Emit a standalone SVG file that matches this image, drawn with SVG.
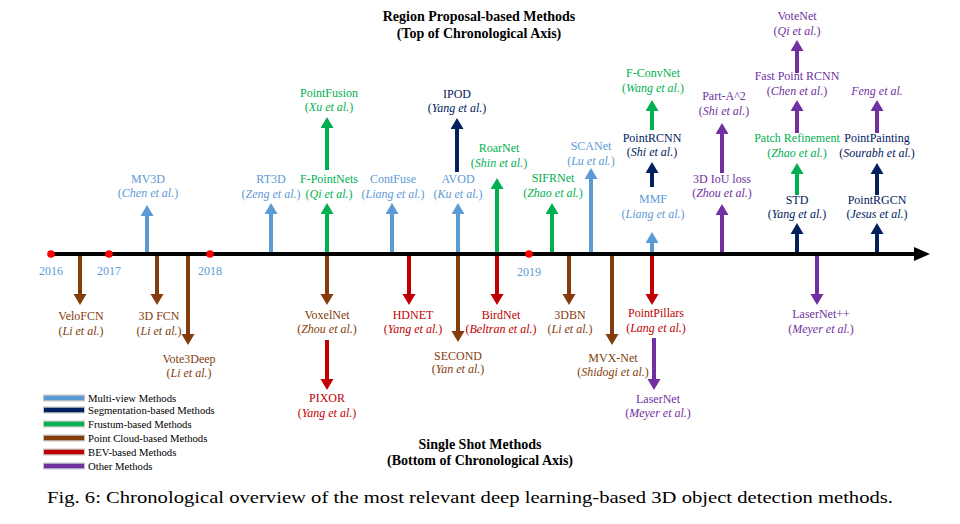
<svg xmlns="http://www.w3.org/2000/svg" width="960" height="524" viewBox="0 0 960 524">
<style>
text{font-family:"Liberation Serif","Times New Roman",serif;font-size:12px;text-anchor:middle}
.i{font-style:italic}
.mv{fill:#5B9BD5}.sg{fill:#002060}.fr{fill:#00B050}.pc{fill:#843C0C}.bev{fill:#C00000}.ot{fill:#7030A0}
.title{font-size:14px;font-weight:bold;fill:#000}
.leg{font-size:10.7px;text-anchor:start;fill:#000}
.cap{font-size:17px;text-anchor:start;fill:#000}
.yr{fill:#5B9BD5;font-size:12px}
.a{stroke-width:4;fill:none}
.smv{stroke:#5B9BD5}.ssg{stroke:#002060}.sfr{stroke:#00B050}.spc{stroke:#843C0C}.sbev{stroke:#C00000}.sot{stroke:#7030A0}
</style>
<defs>
<marker id="m-mv" markerUnits="userSpaceOnUse" markerWidth="12" markerHeight="14" refX="2" refY="6.5" orient="auto"><path d="M0,0 L11,6.5 L0,13 Z" fill="#5B9BD5"/></marker>
<marker id="m-sg" markerUnits="userSpaceOnUse" markerWidth="12" markerHeight="14" refX="2" refY="6.5" orient="auto"><path d="M0,0 L11,6.5 L0,13 Z" fill="#002060"/></marker>
<marker id="m-fr" markerUnits="userSpaceOnUse" markerWidth="12" markerHeight="14" refX="2" refY="6.5" orient="auto"><path d="M0,0 L11,6.5 L0,13 Z" fill="#00B050"/></marker>
<marker id="m-pc" markerUnits="userSpaceOnUse" markerWidth="12" markerHeight="14" refX="2" refY="6.5" orient="auto"><path d="M0,0 L11,6.5 L0,13 Z" fill="#843C0C"/></marker>
<marker id="m-bev" markerUnits="userSpaceOnUse" markerWidth="12" markerHeight="14" refX="2" refY="6.5" orient="auto"><path d="M0,0 L11,6.5 L0,13 Z" fill="#C00000"/></marker>
<marker id="m-ot" markerUnits="userSpaceOnUse" markerWidth="12" markerHeight="14" refX="2" refY="6.5" orient="auto"><path d="M0,0 L11,6.5 L0,13 Z" fill="#7030A0"/></marker>
</defs>
<rect width="960" height="524" fill="#fff"/>

<g id="titles">
<text class="title" x="479" y="21">Region Proposal-based Methods</text>
<text class="title" x="479" y="38">(Top of Chronological Axis)</text>
<text class="title" x="480" y="449">Single Shot Methods</text>
<text class="title" x="480" y="465">(Bottom of Chronological Axis)</text>
</g>

<g id="connectors">
<!-- up arrows -->
<line class="a smv" x1="147" y1="256" x2="147" y2="214" marker-end="url(#m-mv)"/>
<line class="a smv" x1="271" y1="256" x2="271" y2="212" marker-end="url(#m-mv)"/>
<line class="a sfr" x1="327" y1="256" x2="327" y2="212" marker-end="url(#m-fr)"/>
<line class="a sfr" x1="327" y1="170" x2="327" y2="126" marker-end="url(#m-fr)"/>
<line class="a smv" x1="392" y1="256" x2="392" y2="212" marker-end="url(#m-mv)"/>
<line class="a smv" x1="458" y1="256" x2="458" y2="212" marker-end="url(#m-mv)"/>
<line class="a ssg" x1="457" y1="172" x2="457" y2="127" marker-end="url(#m-sg)"/>
<line class="a sfr" x1="497" y1="256" x2="497" y2="187" marker-end="url(#m-fr)"/>
<line class="a sfr" x1="552" y1="256" x2="552" y2="212" marker-end="url(#m-fr)"/>
<line class="a smv" x1="591" y1="256" x2="591" y2="177" marker-end="url(#m-mv)"/>
<line class="a smv" x1="652" y1="256" x2="652" y2="241" marker-end="url(#m-mv)"/>
<line class="a ssg" x1="652" y1="187" x2="652" y2="171" marker-end="url(#m-sg)"/>
<line class="a sfr" x1="652" y1="130" x2="652" y2="109" marker-end="url(#m-fr)"/>
<line class="a sot" x1="722" y1="256" x2="722" y2="213" marker-end="url(#m-ot)"/>
<line class="a sot" x1="722" y1="173" x2="722" y2="132" marker-end="url(#m-ot)"/>
<line class="a ssg" x1="797" y1="256" x2="797" y2="232" marker-end="url(#m-sg)"/>
<line class="a sfr" x1="797" y1="195" x2="797" y2="172" marker-end="url(#m-fr)"/>
<line class="a sot" x1="797" y1="133" x2="797" y2="109" marker-end="url(#m-ot)"/>
<line class="a sot" x1="797" y1="73" x2="797" y2="49" marker-end="url(#m-ot)"/>
<line class="a ssg" x1="877" y1="256" x2="877" y2="232" marker-end="url(#m-sg)"/>
<line class="a ssg" x1="877" y1="195" x2="877" y2="172" marker-end="url(#m-sg)"/>
<line class="a sot" x1="877" y1="133" x2="877" y2="109" marker-end="url(#m-ot)"/>
<!-- down arrows -->
<line class="a spc" x1="80" y1="252" x2="80" y2="296" marker-end="url(#m-pc)"/>
<line class="a spc" x1="157" y1="252" x2="157" y2="296" marker-end="url(#m-pc)"/>
<line class="a spc" x1="188" y1="252" x2="188" y2="336" marker-end="url(#m-pc)"/>
<line class="a spc" x1="327" y1="252" x2="327" y2="296" marker-end="url(#m-pc)"/>
<line class="a sbev" x1="327" y1="340" x2="327" y2="381" marker-end="url(#m-bev)"/>
<line class="a sbev" x1="409" y1="252" x2="409" y2="296" marker-end="url(#m-bev)"/>
<line class="a spc" x1="458" y1="252" x2="458" y2="333" marker-end="url(#m-pc)"/>
<line class="a sbev" x1="497" y1="252" x2="497" y2="296" marker-end="url(#m-bev)"/>
<line class="a spc" x1="569" y1="252" x2="569" y2="296" marker-end="url(#m-pc)"/>
<line class="a spc" x1="612" y1="252" x2="612" y2="336" marker-end="url(#m-pc)"/>
<line class="a sbev" x1="652" y1="252" x2="652" y2="296" marker-end="url(#m-bev)"/>
<line class="a sot" x1="654" y1="338" x2="654" y2="381" marker-end="url(#m-ot)"/>
<line class="a sot" x1="817" y1="252" x2="817" y2="296" marker-end="url(#m-ot)"/>
</g>

<g id="axis">
<line x1="50" y1="254" x2="917" y2="254" stroke="#000" stroke-width="4"/>
<polygon points="914,247 930,254 914,261" fill="#000"/>
<circle cx="51" cy="254" r="3.8" fill="#FF0000"/>
<circle cx="109" cy="254" r="3.8" fill="#FF0000"/>
<circle cx="210" cy="254" r="3.8" fill="#FF0000"/>
<circle cx="529" cy="254" r="3.8" fill="#FF0000"/>
<text class="yr" x="51" y="275">2016</text>
<text class="yr" x="109" y="275">2017</text>
<text class="yr" x="210" y="275">2018</text>
<text class="yr" x="529" y="276">2019</text>
</g>

<g id="MV3D" class="mv"><text x="148" y="183">MV3D</text><text x="148" y="197">(<tspan class="i">Chen et al.</tspan>)</text></g>
<g id="RT3D" class="mv"><text x="271" y="183">RT3D</text><text x="271" y="198">(<tspan class="i">Zeng et al.</tspan>)</text></g>
<g id="FPointNets" class="fr"><text x="329" y="183">F-PointNets</text><text x="329" y="198">(<tspan class="i">Qi et al.</tspan>)</text></g>
<g id="PointFusion" class="fr"><text x="329" y="97">PointFusion</text><text x="329" y="111">(<tspan class="i">Xu et al.</tspan>)</text></g>
<g id="ContFuse" class="mv"><text x="393" y="183">ContFuse</text><text x="393" y="198">(<tspan class="i">Liang et al.</tspan>)</text></g>
<g id="AVOD" class="mv"><text x="458" y="183">AVOD</text><text x="458" y="198">(<tspan class="i">Ku et al.</tspan>)</text></g>
<g id="IPOD" class="sg"><text x="457" y="98">IPOD</text><text x="457" y="112">(<tspan class="i">Yang et al.</tspan>)</text></g>
<g id="RoarNet" class="fr"><text x="499" y="152">RoarNet</text><text x="499" y="167">(<tspan class="i">Shin et al.</tspan>)</text></g>
<g id="SIFRNet" class="fr"><text x="553" y="182">SIFRNet</text><text x="553" y="197">(<tspan class="i">Zhao et al.</tspan>)</text></g>
<g id="SCANet" class="mv"><text x="591" y="150">SCANet</text><text x="591" y="165">(<tspan class="i">Lu et al.</tspan>)</text></g>
<g id="MMF" class="mv"><text x="653" y="203">MMF</text><text x="653" y="218">(<tspan class="i">Liang et al.</tspan>)</text></g>
<g id="PointRCNN" class="sg"><text x="652" y="142">PointRCNN</text><text x="652" y="156">(<tspan class="i">Shi et al.</tspan>)</text></g>
<g id="FConvNet" class="fr"><text x="653" y="77">F-ConvNet</text><text x="653" y="92">(<tspan class="i">Wang et al.</tspan>)</text></g>
<g id="IoU" class="ot"><text x="722" y="183">3D IoU loss</text><text x="722" y="197">(<tspan class="i">Zhou et al.</tspan>)</text></g>
<g id="PartA2" class="ot"><text x="724" y="100">Part-A^2</text><text x="724" y="115">(<tspan class="i">Shi et al.</tspan>)</text></g>
<g id="STD" class="sg"><text x="797" y="204">STD</text><text x="797" y="218">(<tspan class="i">Yang et al.</tspan>)</text></g>
<g id="PatchRefinement" class="fr"><text x="797" y="142">Patch Refinement</text><text x="797" y="157">(<tspan class="i">Zhao et al.</tspan>)</text></g>
<g id="FastPointRCNN" class="ot"><text x="797" y="80">Fast Point RCNN</text><text x="797" y="95">(<tspan class="i">Chen et al.</tspan>)</text></g>
<g id="VoteNet" class="ot"><text x="797" y="20">VoteNet</text><text x="797" y="35">(<tspan class="i">Qi et al.</tspan>)</text></g>
<g id="PointRGCN" class="sg"><text x="877" y="204">PointRGCN</text><text x="877" y="218">(<tspan class="i">Jesus et al.</tspan>)</text></g>
<g id="PointPainting" class="sg"><text x="877" y="142">PointPainting</text><text x="877" y="157">(<tspan class="i">Sourabh et al.</tspan>)</text></g>
<g id="Feng" class="ot"><text x="877" y="95" class="i">Feng et al.</text></g>

<g id="VeloFCN" class="pc"><text x="81" y="320">VeloFCN</text><text x="81" y="335">(<tspan class="i">Li et al.</tspan>)</text></g>
<g id="FCN3D" class="pc"><text x="159" y="320">3D FCN</text><text x="159" y="335">(<tspan class="i">Li et al.</tspan>)</text></g>
<g id="Vote3Deep" class="pc"><text x="189" y="363">Vote3Deep</text><text x="189" y="377">(<tspan class="i">Li et al.</tspan>)</text></g>
<g id="VoxelNet" class="pc"><text x="327" y="319">VoxelNet</text><text x="327" y="333">(<tspan class="i">Zhou et al.</tspan>)</text></g>
<g id="PIXOR" class="bev"><text x="327" y="402">PIXOR</text><text x="327" y="417">(<tspan class="i">Yang et al.</tspan>)</text></g>
<g id="HDNET" class="bev"><text x="413" y="319">HDNET</text><text x="413" y="333">(<tspan class="i">Yang et al.</tspan>)</text></g>
<g id="SECOND" class="pc"><text x="458" y="360">SECOND</text><text x="458" y="373">(<tspan class="i">Yan et al.</tspan>)</text></g>
<g id="BirdNet" class="bev"><text x="501" y="319">BirdNet</text><text x="501" y="333">(<tspan class="i">Beltran et al.</tspan>)</text></g>
<g id="DBN3" class="pc"><text x="570" y="319">3DBN</text><text x="570" y="333">(<tspan class="i">Li et al.</tspan>)</text></g>
<g id="MVXNet" class="pc"><text x="613" y="362">MVX-Net</text><text x="613" y="376">(<tspan class="i">Shidogi et al.</tspan>)</text></g>
<g id="PointPillars" class="bev"><text x="656" y="317">PointPillars</text><text x="656" y="332">(<tspan class="i">Lang et al.</tspan>)</text></g>
<g id="LaserNet" class="ot"><text x="658" y="403">LaserNet</text><text x="658" y="417">(<tspan class="i">Meyer et al.</tspan>)</text></g>
<g id="LaserNetPP" class="ot"><text x="821" y="318">LaserNet++</text><text x="821" y="333">(<tspan class="i">Meyer et al.</tspan>)</text></g>

<g id="legend">
<g stroke="#C8C8C8" stroke-width="7"><line x1="43" y1="398" x2="85" y2="398"/><line x1="43" y1="410" x2="85" y2="410"/><line x1="43" y1="424" x2="85" y2="424"/><line x1="43" y1="438" x2="85" y2="438"/><line x1="43" y1="452" x2="85" y2="452"/><line x1="43" y1="466" x2="85" y2="466"/></g>
<g stroke-width="4.5">
<line x1="44" y1="398" x2="84" y2="398" stroke="#5B9BD5"/>
<line x1="44" y1="410" x2="84" y2="410" stroke="#002060"/>
<line x1="44" y1="424" x2="84" y2="424" stroke="#00B050"/>
<line x1="44" y1="438" x2="84" y2="438" stroke="#843C0C"/>
<line x1="44" y1="452" x2="84" y2="452" stroke="#C00000"/>
<line x1="44" y1="466" x2="84" y2="466" stroke="#7030A0"/>
</g>
<text class="leg" x="88" y="402">Multi-view Methods</text>
<text class="leg" x="88" y="414">Segmentation-based Methods</text>
<text class="leg" x="88" y="428">Frustum-based Methods</text>
<text class="leg" x="88" y="442">Point Cloud-based Methods</text>
<text class="leg" x="88" y="456">BEV-based Methods</text>
<text class="leg" x="88" y="470">Other Methods</text>
</g>

<text class="cap" x="47" y="503" textLength="846" lengthAdjust="spacingAndGlyphs">Fig. 6: Chronological overview of the most relevant deep learning-based 3D object detection methods.</text>
</svg>
